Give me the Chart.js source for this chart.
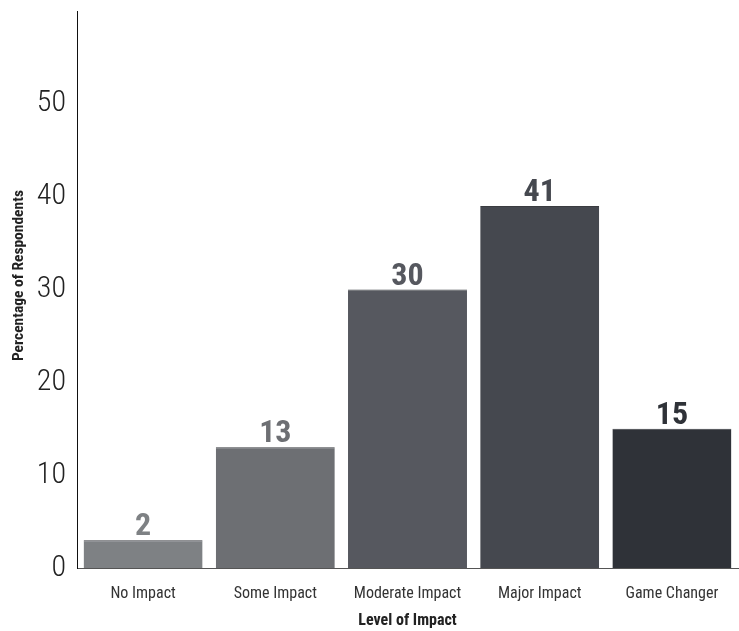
<!DOCTYPE html>
<html>
<head>
<meta charset="utf-8">
<script src="https://cdn.jsdelivr.net/npm/chart.js@4"></script>
<style>
  html, body { margin: 0; padding: 0; background: #fff; }
  #wrap { width: 739px; height: 631px; }
</style>
</head>
<body>
<div id="wrap"><canvas id="grafik" width="739" height="631"></canvas></div>
<script>
const kategori = ['No Impact', 'Some Impact', 'Moderate Impact', 'Major Impact', 'Game Changer'];
const tinggiBatang = [3, 13, 30, 39, 15];
const labelNilai = [2, 13, 30, 41, 15];
const warnaBatang = ['#7e8184', '#6d6f73', '#56585f', '#45484f', '#2f3238'];
const tickY = [0, 10, 20, 30, 40, 50];
const judulY = 'Percentage of Respondents';

const fontKondensed = "'Roboto Condensed', 'Liberation Sans Narrow', 'Arial Narrow', Roboto, sans-serif";

// tulis angka di atas tiap batang
const labelAtas = {
    id: 'labelAtas',
    afterDatasetsDraw(chart) {
        const ctx = chart.ctx;
        const meta = chart.getDatasetMeta(0);
        ctx.save();
        ctx.font = "bold 32px " + fontKondensed;
        ctx.textAlign = 'center';
        ctx.textBaseline = 'bottom';
        meta.data.forEach((bar, i) => {
            ctx.fillStyle = warnaBatang[i];
            ctx.fillText(String(labelNilai[i]), bar.x, bar.y + 3);
        });
        ctx.restore();
    }
};

// judul sumbu Y, agak di atas tengah seperti aslinya
const judulSumbuY = {
    id: 'judulSumbuY',
    afterDraw(chart) {
        const ctx = chart.ctx;
        const y = chart.scales.y.getPixelForValue(31.5);
        ctx.save();
        ctx.translate(19, y);
        ctx.rotate(-Math.PI / 2);
        ctx.font = "bold 15.5px " + fontKondensed;
        ctx.fillStyle = '#222';
        ctx.textAlign = 'center';
        ctx.textBaseline = 'middle';
        ctx.fillText(judulY, 0, 0);
        ctx.restore();
    }
};

const ctx = document.getElementById('grafik').getContext('2d');
new Chart(ctx, {
    type: 'bar',
    data: {
        labels: kategori,
        datasets: [{
            data: tinggiBatang,
            backgroundColor: warnaBatang,
            borderColor: '#3a3c40',
            borderWidth: { top: 1, left: 0, right: 0, bottom: 0 },
            borderSkipped: 'bottom',
            barPercentage: 0.9,
            categoryPercentage: 1.0
        }]
    },
    options: {
        responsive: false,
        animation: false,
        layout: { padding: { top: 11, right: 1, left: 0, bottom: 0 } },
        plugins: {
            legend: { display: false },
            tooltip: { enabled: false }
        },
        scales: {
            x: {
                grid: { display: false, drawTicks: false },
                border: { display: true, color: '#555', width: 1 },
                ticks: {
                    color: '#333',
                    padding: 16,
                    font: { family: fontKondensed, size: 16 }
                },
                title: {
                    display: true,
                    text: 'Level of Impact',
                    color: '#222',
                    font: { family: fontKondensed, size: 16, weight: 'bold' },
                    padding: { top: 4, bottom: 0 }
                },
                afterFit(scale) {
                    scale.height = 63;
                    scale.paddingLeft = 0;
                    scale.paddingRight = 0;
                }
            },
            y: {
                min: 0,
                max: 60,
                grid: { display: false, drawTicks: false },
                border: { display: true, color: '#111', width: 1 },
                afterBuildTicks(scale) {
                    scale.ticks = tickY.map(v => ({ value: v }));
                },
                ticks: {
                    color: '#222',
                    padding: 11,
                    font: { family: fontKondensed, size: 30, weight: 300 }
                },
                afterFit(scale) {
                    scale.width = 77;
                    scale.paddingTop = 0;
                    scale.paddingBottom = 0;
                }
            }
        }
    },
    plugins: [labelAtas, judulSumbuY]
});
</script>
</body>
</html>
